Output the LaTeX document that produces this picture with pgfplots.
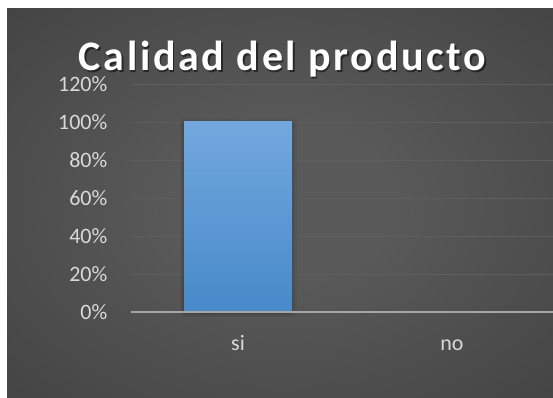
\documentclass[border=0pt]{standalone}
\usepackage{pgfplots}
\pgfplotsset{compat=1.18}
\usetikzlibrary{shadows.blur}
\usepackage{fontspec}
\setmainfont{Carlito}
\definecolor{bgin}{HTML}{595959}
\definecolor{bgout}{HTML}{262626}
\definecolor{gridc}{HTML}{5E5E5E}
\definecolor{axisc}{HTML}{A6A6A6}
\definecolor{labc}{HTML}{D9D9D9}
\definecolor{bartop}{HTML}{72A8DE}
\definecolor{barbot}{HTML}{4789C9}
\pgfdeclareradialshading{bgshade}{\pgfpoint{0bp}{0bp}}{color(0bp)=(bgin); color(10bp)=(bgin); color(72bp)=(bgout)}
\begin{document}
\begin{tikzpicture}[x=1pt,y=1pt]
\useasboundingbox (0,0) rectangle (553,398);
\shade[shading=bgshade] (7,0) rectangle (560,389);
\begin{axis}[
  at={(131pt,86pt)}, anchor=south west,
  scale only axis, width=428pt, height=228pt,
  xmin=-0.5, xmax=1.5, ymin=0, ymax=120,
  xtick={0,1}, xticklabels={si,no},
  ytick={0,20,40,60,80,100,120},
  yticklabels={0\%,20\%,40\%,60\%,80\%,100\%,120\%},
  axis line style={draw=none}, major tick length=0pt,
  ymajorgrids, grid style={draw=gridc, line width=0.8pt},
  yticklabel style={font=\fontsize{22}{22}\selectfont, text=labc, anchor=east, inner sep=0pt, xshift=-23.5pt},
  xticklabel style={font=\fontsize{22}{22}\selectfont, text=labc, anchor=base, inner sep=0pt, yshift=-38pt},
  clip=false,
]
\addplot[ybar, bar width=108pt, draw=none, top color=bartop, bottom color=barbot,
  blur shadow={shadow xshift=0pt, shadow yshift=-1pt, shadow blur radius=4pt, shadow opacity=45}] coordinates {(0,100)};
\addplot[ybar, bar width=108pt, draw=none, fill=none] coordinates {(1,0)};
\draw[axisc, line width=1.5pt] (axis cs:-0.5,0) -- (axis cs:1.5,0);
\end{axis}
\node[font=\fontsize{42}{42}\selectfont\bfseries\addfontfeatures{LetterSpace=6.5}, text=black, opacity=0.5, anchor=base] at (284,325.5) {Calidad del producto};
\node[font=\fontsize{42}{42}\selectfont\bfseries\addfontfeatures{LetterSpace=6.5}, text=white, anchor=base] at (282.5,327) {Calidad del producto};
\end{tikzpicture}
\end{document}
